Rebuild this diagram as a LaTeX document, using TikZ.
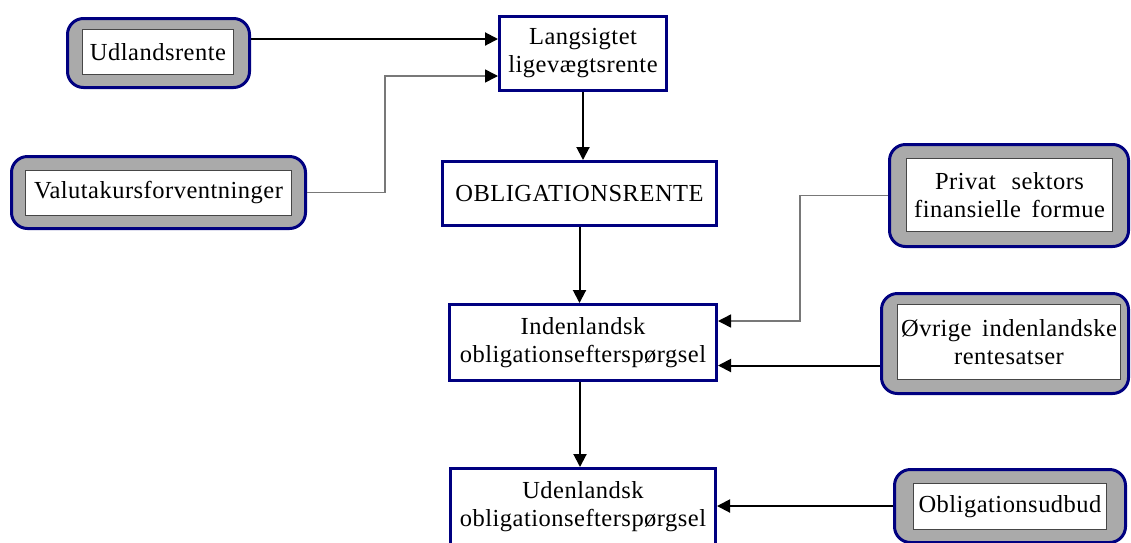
\documentclass[tikz,border=0pt]{standalone}
\usepackage{fontspec}
\setmainfont{Liberation Serif}[LetterSpace=2]
\usetikzlibrary{arrows.meta,calc}
\definecolor{navyb}{RGB}{0,0,128}
\definecolor{fillg}{RGB}{170,170,170}
\definecolor{lineg}{RGB}{120,120,120}
\definecolor{innerb}{RGB}{70,70,70}
\begin{document}
\begin{tikzpicture}[x=1pt,y=-1pt,
  txt/.style={font=\fontsize{24.5}{28}\selectfont, align=center, text=black},
  outerbox/.style={draw=navyb, line width=3pt, fill=fillg, rounded corners=16pt, inner sep=0pt},
  innerbox/.style={txt, draw=innerb, line width=1.2pt, fill=white, inner sep=0pt},
  mainbox/.style={txt, draw=navyb, line width=3pt, fill=white, inner sep=0pt},
  arr/.style={line width=2pt, -{Triangle[length=13pt,width=13pt]}},
  garr/.style={draw=lineg, line width=1.5pt, -{Triangle[length=13pt,width=13pt,color=black,fill=black]}}
]
\useasboundingbox (0,0) rectangle (1131,542);

% side (input) boxes
\node[outerbox, minimum width=182pt, minimum height=69pt] (udlO) at (158.5,53) {};
\node[innerbox, minimum width=151pt, minimum height=45pt] (udl) at (158,52) {Udlandsrente};

\node[outerbox, minimum width=294pt, minimum height=72pt] (valO) at (158.5,192.5) {};
\node[innerbox, minimum width=266pt, minimum height=45pt] (val) at (158.5,193) {Valutakursforventninger};

\node[outerbox, minimum width=239pt, minimum height=102pt] (privO) at (1009,195.5) {};
\node[innerbox, minimum width=206pt, minimum height=73pt] (priv) at (1009.5,195) {Privat\hspace{9pt} sektors\\finansielle\hspace{4pt} formue};

\node[outerbox, minimum width=247pt, minimum height=100pt] (ovrO) at (1005,343.5) {};
\node[innerbox, minimum width=223pt, minimum height=75pt] (ovr) at (1009,342) {Øvrige\hspace{4pt} indenlandske\\rentesatser};

\node[outerbox, minimum width=231pt, minimum height=73pt] (udbO) at (1010,506) {};
\node[innerbox, minimum width=193pt, minimum height=46pt] (udb) at (1010,506.5) {Obligationsudbud};

% main chain
\node[mainbox, minimum width=167pt, minimum height=74pt] (lang) at (583,53.5) {Langsigtet\\ligevægtsrente};
\node[mainbox, minimum width=274pt, minimum height=64pt] (oblr) at (579.5,193.5) {OBLIGATIONSRENTE};
\node[mainbox, minimum width=267pt, minimum height=76pt] (inden) at (583,342.5) {Indenlandsk\\obligationsefterspørgsel};
\node[mainbox, minimum width=265pt, minimum height=76pt] (uden) at (583,506.5) {Udenlandsk\\obligationsefterspørgsel};

% connectors
\draw[arr] ([yshift=14pt]udlO.east) -- ([yshift=14pt]udlO.east -| lang.west);
\draw[garr] (valO.east) -- ++(78,0) |- ([yshift=-22.5pt]lang.west);
\draw[arr] (lang.south) -- (lang.south |- oblr.north);
\draw[arr] (oblr.south) -- (oblr.south |- inden.north);
\draw[arr] ([xshift=-3pt]inden.south) -- ([xshift=-3pt]inden.south |- uden.north);
\draw[garr] (privO.west) -- ++(-88,0) |- ([yshift=21.5pt]inden.east);
\draw[arr] ([yshift=-22pt]ovrO.west) -- ([yshift=-22pt]ovrO.west -| inden.east);
\draw[arr] (udbO.west) -- (udbO.west -| uden.east);
\end{tikzpicture}
\end{document}
